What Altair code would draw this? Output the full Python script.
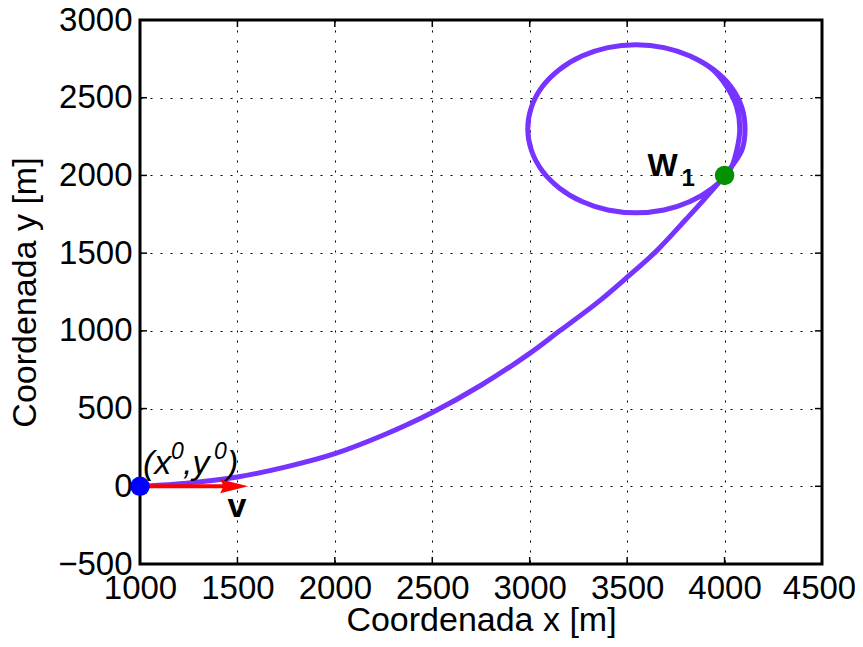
import altair as alt
import pandas as pd

# ---- data ----
# approach curve from (x0, y0) to W1, then the loop around (traversed, with a slight
# second pass on its right-hand side)
path_x = [1000, 1250, 1500, 1750, 2000, 2250, 2500, 2750, 3000, 3154, 3350, 3500, 3650, 3800, 3900, 4000,
          4088, 4105, 4088, 4032, 3940, 3823, 3689, 3545, 3401, 3268, 3153, 3064, 3009, 2990, 3009, 3064,
          3153, 3268, 3401, 3545, 3689, 3823, 3937, 4026, 4062, 4078, 4062, 4012, 3936, 3823]
path_y = [0, 22, 60, 125, 210, 330, 475, 650, 855, 1000, 1185, 1345, 1513, 1715, 1853, 2000,
          2160, 2300, 2440, 2572, 2684, 2768, 2822, 2840, 2822, 2768, 2682, 2570, 2440, 2300, 2160, 2030,
          1918, 1832, 1778, 1760, 1778, 1832, 1918, 2030, 2160, 2300, 2440, 2570, 2684, 2768]

x_ticks = [1000, 1500, 2000, 2500, 3000, 3500, 4000, 4500]
y_ticks = [-500, 0, 500, 1000, 1500, 2000, 2500, 3000]

start_x, start_y = [1000], [0]
wp_x, wp_y = [4000], [2000]
arrow_tip_x = [1555]
shaft_end_x = [1480]

W, H = 682, 544
FONT = "Liberation Sans"

traj = pd.DataFrame({"x": path_x, "y": path_y, "k": list(range(len(path_x)))})
start = pd.DataFrame({"x": start_x, "y": start_y})
wp = pd.DataFrame({"x": wp_x, "y": wp_y})
shaft = pd.DataFrame({"x": start_x, "x2": shaft_end_x, "y": start_y})
head = pd.DataFrame({"x": arrow_tip_x, "y": start_y})
xt = pd.DataFrame({"x": x_ticks})
yt = pd.DataFrame({"y": y_ticks})

x_enc = alt.X("x:Q", scale=alt.Scale(domain=[1000, 4500], nice=False, zero=False),
              axis=alt.Axis(values=x_ticks, title="Coordenada x [m]", format="d",
                            labelOffset={"condition": {"test": "datum.value === 4500", "value": -3},
                                         "value": 0}))
y_enc = alt.Y("y:Q", scale=alt.Scale(domain=[-500, 3000], nice=False, zero=False),
              axis=alt.Axis(values=y_ticks, title="Coordenada y [m]", format="d"))

tick_b = alt.Chart(xt).mark_rule(color="black", strokeWidth=1.5).encode(
    x=x_enc, y=alt.value(H), y2=alt.value(H - 7))
tick_t = alt.Chart(xt).mark_rule(color="black", strokeWidth=1.5).encode(
    x=x_enc, y=alt.value(0), y2=alt.value(7))
tick_l = alt.Chart(yt).mark_rule(color="black", strokeWidth=1.5).encode(
    y=y_enc, x=alt.value(0), x2=alt.value(7))
tick_r = alt.Chart(yt).mark_rule(color="black", strokeWidth=1.5).encode(
    y=y_enc, x=alt.value(W), x2=alt.value(W - 7))

line = alt.Chart(traj).mark_line(color="#7733ff", strokeWidth=5, interpolate="catmull-rom").encode(
    x=x_enc, y=y_enc, order="k:Q")

shaft_l = alt.Chart(shaft).mark_rule(color="#ff0000", strokeWidth=4).encode(
    x=x_enc, x2="x2:Q", y=y_enc)
head_l = alt.Chart(head).mark_point(shape="M-2,-0.5L0,0L-2,0.5L-1.75,0Z", size=784, filled=True,
                                    color="#ff0000", opacity=1, strokeWidth=0).encode(x=x_enc, y=y_enc)

p_start = alt.Chart(start).mark_point(shape="circle", size=380, filled=True, color="#0000ff",
                                      opacity=1).encode(x=x_enc, y=y_enc)
p_wp = alt.Chart(wp).mark_point(shape="circle", size=380, filled=True, color="#009000",
                                opacity=1).encode(x=x_enc, y=y_enc)


def txt(df, text, dx, dy, size, weight="normal", style="normal", align="left"):
    return alt.Chart(df).mark_text(text=text, dx=dx, dy=dy, fontSize=size, fontWeight=weight,
                                   fontStyle=style, align=align, baseline="alphabetic",
                                   color="black", font=FONT).encode(x=x_enc, y=y_enc)


labels = [
    txt(start, "(x", 3, -12, 34, style="italic"),
    txt(start, "0", 31, -27, 23, style="italic"),
    txt(start, ",y", 43, -12, 34, style="italic"),
    txt(start, "0", 74, -27, 23, style="italic"),
    txt(start, ")", 87, -12, 34, style="italic"),
    txt(start, "v", 97, 31, 34, weight="bold", align="center"),
    txt(wp, "W", -77, 1, 32, weight="bold"),
    txt(wp, "1", -43, 11, 24, weight="bold"),
]

chart = alt.layer(tick_b, tick_t, tick_l, tick_r, line, shaft_l, head_l, p_start, p_wp, *labels).properties(
    width=W, height=H,
    autosize=alt.AutoSizeParams(type="none"),
    padding={"left": 132, "top": 12, "right": 33, "bottom": 74},
).configure_view(stroke="black", strokeWidth=3).configure_axis(
    labelFont=FONT, titleFont=FONT, labelFontSize=33, titleFontSize=34, titleFontWeight="normal",
    labelColor="black", titleColor="black", ticks=False, domain=False, grid=True,
    gridColor="black", gridDash=[2, 8], gridWidth=1, gridOpacity=1, labelOverlap=False,
    labelFlush=False,
).configure_axisX(labelPadding=8, titlePadding=-2).configure_axisY(labelPadding=8, titlePadding=15)

chart.save("out.html", embed_options={"renderer": "svg", "actions": False})
